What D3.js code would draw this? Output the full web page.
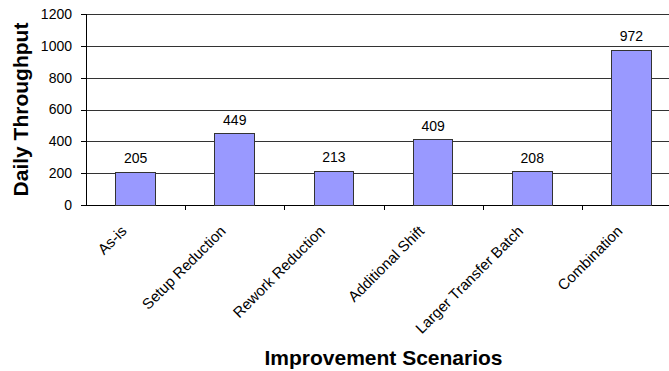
<!DOCTYPE html>
<html>
<head>
<meta charset="utf-8">
<script src="https://cdn.jsdelivr.net/npm/d3@7"></script>
<style>
    body { margin: 0; background: #fff; }
    svg { display: block; font-family: "Liberation Sans", Arial, sans-serif; }
    .axis path, .axis line { stroke: #000; shape-rendering: crispEdges; }
    .grid line { stroke: #333; shape-rendering: crispEdges; }
    .bar { fill: #9999ff; stroke: #333; stroke-width: 1; shape-rendering: crispEdges; }
</style>
</head>
<body>
<div id="chart-area"></div>
<script>

// chart data
var scenarios = ["As-is", "Setup Reduction", "Rework Reduction", "Additional Shift", "Larger Transfer Batch", "Combination"];
var throughput = [205, 449, 213, 409, 208, 972];
var yTicks = [0, 200, 400, 600, 800, 1000, 1200];
var yTitle = "Daily Throughput";
var xTitle = "Improvement Scenarios";


BarChart = function(_parentElement, _categories, _values){
    this.parentElement = _parentElement;
    this.categories = _categories;
    this.values = _values;
    this.displayData = [];

    this.initVis();
}

BarChart.prototype.initVis = function(){
    var vis = this;

    vis.margin = {top: 14, right: 0, bottom: 166, left: 86};

    // plot runs a bit past the right edge, like the original
    vis.width = 595;
    vis.height = 191;

    vis.svg = d3.select("#" + vis.parentElement).append("svg")
        .attr("width", 669)
        .attr("height", 371)
        .append("g")
        .attr("transform", "translate(" + vis.margin.left + "," + vis.margin.top + ")");

    vis.x = d3.scaleBand()
        .range([0, vis.width])
        .paddingInner(0)
        .paddingOuter(0);

    vis.y = d3.scaleLinear()
        .range([vis.height, 0]);

    vis.xAxis = d3.axisBottom()
        .scale(vis.x)
        .tickSize(0)
        .tickFormat("");

    vis.yAxis = d3.axisLeft()
        .scale(vis.y)
        .tickValues(yTicks)
        .tickFormat(d3.format("d"))
        .tickSize(5)
        .tickPadding(9);

    vis.svg.append("g").attr("class", "grid");

    vis.svg.append("g")
        .attr("class", "x-axis axis")
        .attr("transform", "translate(0," + vis.height + ")");

    vis.svg.append("g")
        .attr("class", "y-axis axis");

    // axis titles
    vis.svg.append("text")
        .attr("transform", "translate(-58," + (vis.height / 2) + ") rotate(-90)")
        .attr("text-anchor", "middle")
        .style("font-size", "21px")
        .style("font-weight", "bold")
        .text(yTitle);

    vis.svg.append("text")
        .attr("x", vis.width / 2)
        .attr("y", 351)
        .attr("text-anchor", "middle")
        .style("font-size", "21px")
        .style("font-weight", "bold")
        .text(xTitle);

    vis.wrangleData();
}

BarChart.prototype.wrangleData = function(){
    var vis = this;

    vis.displayData = vis.categories.map(function(c, i){
        return {name: c, value: vis.values[i]};
    });

    vis.updateVis();
}

BarChart.prototype.updateVis = function(){
    var vis = this;

    vis.x.domain(vis.displayData.map(d => d.name));
    vis.y.domain([yTicks[0], yTicks[yTicks.length - 1]]);

    // horizontal gridlines
    vis.svg.select(".grid").selectAll("line")
        .data(yTicks.slice(1))
        .enter().append("line")
        .attr("x1", 0)
        .attr("x2", vis.width)
        .attr("y1", d => Math.round(vis.y(d)) + 0.5)
        .attr("y2", d => Math.round(vis.y(d)) + 0.5);

    var barW = vis.x.bandwidth() * 0.4;

    vis.svg.selectAll(".bar")
        .data(vis.displayData)
        .enter().append("rect")
        .attr("class", "bar")
        .attr("x", d => vis.x(d.name) + (vis.x.bandwidth() - barW) / 2)
        .attr("y", d => vis.y(d.value))
        .attr("width", barW)
        .attr("height", d => vis.height - vis.y(d.value));

    vis.svg.selectAll(".value-label")
        .data(vis.displayData)
        .enter().append("text")
        .attr("class", "value-label")
        .attr("x", d => vis.x(d.name) + vis.x.bandwidth() / 2)
        .attr("y", d => vis.y(d.value) - 9)
        .attr("text-anchor", "middle")
        .style("font-size", "14px")
        .text(d => d.value);

    vis.svg.select(".x-axis").call(vis.xAxis);
    vis.svg.select(".y-axis").call(vis.yAxis);

    vis.svg.select(".y-axis").selectAll("text")
        .style("font-size", "14px")
        .style("font-family", "Liberation Sans, Arial, sans-serif");

    // tick marks between categories
    vis.svg.select(".x-axis").selectAll(".sep")
        .data(vis.displayData.slice(1))
        .enter().append("line")
        .attr("class", "sep")
        .attr("x1", d => Math.round(vis.x(d.name)) + 0.5)
        .attr("x2", d => Math.round(vis.x(d.name)) + 0.5)
        .attr("y1", 0)
        .attr("y2", 5);

    // slanted category labels
    vis.svg.selectAll(".cat-label")
        .data(vis.displayData)
        .enter().append("text")
        .attr("class", "cat-label")
        .attr("text-anchor", "end")
        .attr("transform", d => "translate(" + (vis.x(d.name) + vis.x.bandwidth() / 2 - 8) + "," + (vis.height + 27) + ") rotate(-45)")
        .style("font-size", "15px")
        .text(d => d.name);
}

var chart = new BarChart("chart-area", scenarios, throughput);

</script>
</body>
</html>
